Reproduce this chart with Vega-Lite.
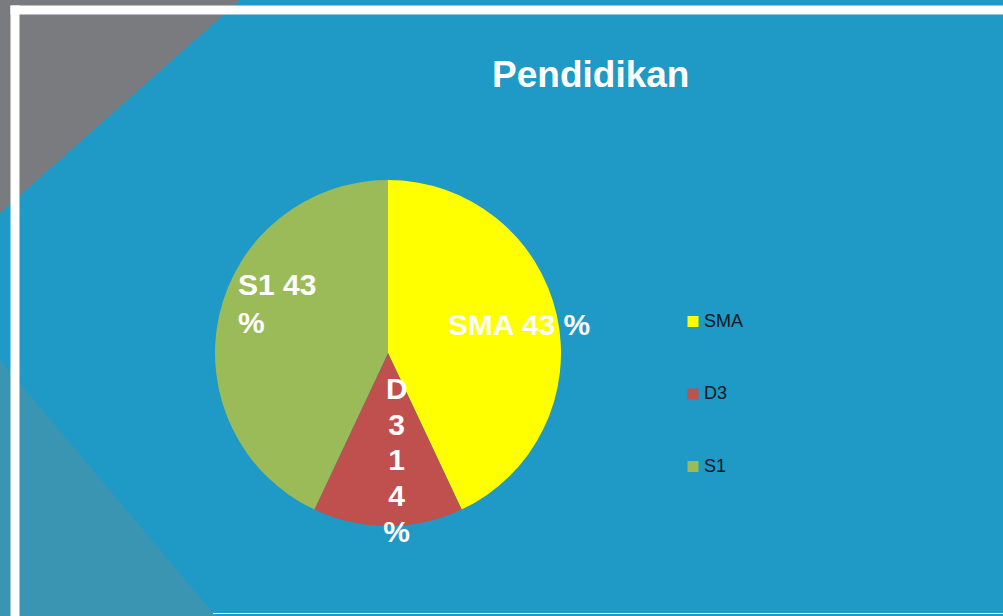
{
  "$schema": "https://vega.github.io/schema/vega-lite/v6.json",
  "autosize": {"type": "none"},
  "width": 988.5,
  "height": 603.5,
  "padding": {"left": 14.5, "top": 9.5, "right": 0, "bottom": 3},
  "background": "#1F99C6",
  "config": {
    "view": {"stroke": "#e6f3f8", "strokeWidth": 1},
    "font": "Liberation Sans"
  },
  "title": {
    "text": "Pendidikan",
    "font": "Liberation Sans",
    "fontSize": 37,
    "fontWeight": "bold",
    "color": "white",
    "anchor": "middle",
    "dx": 82,
    "dy": 124,
    "offset": 0,
    "baseline": "alphabetic"
  },
  "data": {
    "values": [
      {"cat": "SMA", "value": 43, "order": 1, "label": "SMA 43 %"},
      {"cat": "D3", "value": 14, "order": 2, "label": "D\n3\n1\n4\n%"},
      {"cat": "S1", "value": 43, "order": 3, "label": "S1 43\n%"}
    ]
  },
  "layer": [
    {
      "data": {"values": [{}]},
      "mark": {
        "type": "rect",
        "fill": {
          "gradient": "linear",
          "x1": 0, "y1": 0, "x2": 0.3236, "y2": 0.224,
          "stops": [
            {"offset": 0, "color": "#7A7B7F"},
            {"offset": 0.5, "color": "#7A7B7F"},
            {"offset": 0.5, "color": "rgba(122,123,127,0)"},
            {"offset": 1, "color": "rgba(122,123,127,0)"}
          ]
        }
      },
      "encoding": {
        "x": {"datum": -0.01467, "type": "quantitative", "scale": {"domain": [0, 1], "nice": false, "zero": false},
              "axis": {"orient": "top", "title": null, "domainColor": "white", "domainWidth": 9, "domainCap": "square", "ticks": false, "labels": false, "grid": false, "zindex": 1}},
        "x2": {"datum": 1},
        "y": {"datum": -0.01574, "type": "quantitative", "scale": {"domain": [0, 1], "nice": false, "zero": false, "reverse": true},
              "axis": {"orient": "left", "title": null, "domainColor": "white", "domainWidth": 9, "domainCap": "square", "ticks": false, "labels": false, "grid": false, "zindex": 1}},
        "y2": {"datum": 1.00497}
      }
    },
    {
      "data": {"values": [{}]},
      "mark": {
        "type": "rect",
        "fill": {
          "gradient": "linear",
          "x1": 0.3727, "y1": 0.652, "x2": -0.1603, "y2": 0.9276,
          "stops": [
            {"offset": 0, "color": "rgba(58,149,178,0)"},
            {"offset": 0.5, "color": "rgba(58,149,178,0)"},
            {"offset": 0.5, "color": "#3A95B2"},
            {"offset": 1, "color": "#3A95B2"}
          ]
        }
      },
      "encoding": {
        "x": {"datum": -0.01467, "type": "quantitative"},
        "x2": {"datum": 1},
        "y": {"datum": -0.01574, "type": "quantitative"},
        "y2": {"datum": 1.00497}
      }
    },
    {
      "mark": {"type": "arc", "outerRadius": 173, "stroke": null},
      "encoding": {
        "x": {"datum": 0.37785, "type": "quantitative"},
        "y": {"datum": 0.56918, "type": "quantitative"},
        "theta": {"field": "value", "type": "quantitative", "stack": true},
        "order": {"field": "order", "type": "quantitative"},
        "color": {
          "field": "cat",
          "type": "nominal",
          "scale": {"domain": ["SMA", "D3", "S1"], "range": ["#FFFF00", "#C0504D", "#9BBB59"]},
          "legend": {
            "orient": "none",
            "legendX": 669.5,
            "legendY": 303,
            "title": null,
            "symbolType": "square",
            "symbolSize": 121,
            "symbolStrokeWidth": 0,
            "labelFont": "Liberation Sans",
            "labelFontSize": 18,
            "labelColor": "#0b1820",
            "labelOffset": 2,
            "rowPadding": 54.5,
            "padding": 0
          }
        }
      }
    },
    {
      "mark": {"type": "text", "radius": 134.2, "dy": 11.3, "align": "center", "baseline": "alphabetic", "font": "Liberation Sans", "fontWeight": "bold", "fontSize": 30, "color": "white", "lineBreak": "\n"},
      "encoding": {
        "x": {"datum": 0.37785, "type": "quantitative"},
        "y": {"datum": 0.56918, "type": "quantitative"},
        "theta": {"field": "value", "type": "quantitative", "stack": true},
        "order": {"field": "order", "type": "quantitative"},
        "text": {"field": "label"},
        "opacity": {"condition": {"test": "datum.cat === 'SMA'", "value": 1}, "value": 0}
      }
    },
    {
      "mark": {"type": "text", "radius": 153.7, "dy": -24.5, "align": "left", "baseline": "alphabetic", "font": "Liberation Sans", "fontWeight": "bold", "fontSize": 30, "lineHeight": 38, "color": "white", "lineBreak": "\n"},
      "encoding": {
        "x": {"datum": 0.37785, "type": "quantitative"},
        "y": {"datum": 0.56918, "type": "quantitative"},
        "theta": {"field": "value", "type": "quantitative", "stack": true},
        "order": {"field": "order", "type": "quantitative"},
        "text": {"field": "label"},
        "opacity": {"condition": {"test": "datum.cat === 'S1'", "value": 1}, "value": 0}
      }
    },
    {
      "mark": {"type": "text", "radius": 46.3, "dx": 8.7, "align": "center", "baseline": "alphabetic", "font": "Liberation Sans", "fontWeight": "bold", "fontSize": 30, "lineHeight": 35.6, "color": "white", "lineBreak": "\n"},
      "encoding": {
        "x": {"datum": 0.37785, "type": "quantitative"},
        "y": {"datum": 0.56918, "type": "quantitative"},
        "theta": {"field": "value", "type": "quantitative", "stack": true},
        "order": {"field": "order", "type": "quantitative"},
        "text": {"field": "label"},
        "opacity": {"condition": {"test": "datum.cat === 'D3'", "value": 1}, "value": 0}
      }
    }
  ]
}
